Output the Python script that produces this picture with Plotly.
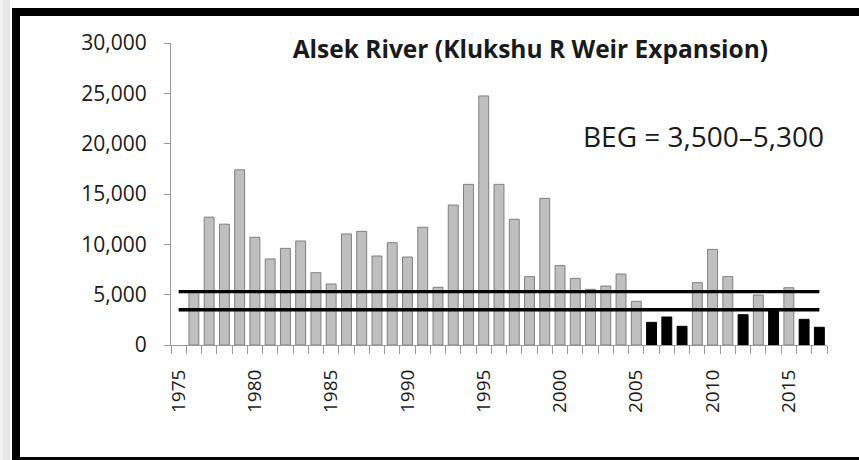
import plotly.graph_objects as go

# Alsek River (Klukshu weir expansion) escapement by year
years = list(range(1975, 2018))
counts = [None, 5350, 12700, 12000, 17400, 10700, 8550, 9600, 10330, 7180,
          6060, 11030, 11290, 8840, 10160, 8740, 11700, 5730, 13900, 15960,
          24740, 15960, 12490, 6790, 14570, 7880, 6620, 5530, 5860, 7050,
          4340, 2250, 2780, 1855, 6190, 9500, 6790, 3010, 4970, 3480,
          5690, 2550, 1760]
# years below the goal range, drawn in black
below_goal = [2006, 2007, 2008, 2012, 2014, 2016, 2017]
beg_low = 3500
beg_high = 5300
y_ticks = [0, 5000, 10000, 15000, 20000, 25000, 30000]
x_ticks = [1975, 1980, 1985, 1990, 1995, 2000, 2005, 2010, 2015]

bar_fill = ['#000000' if y in below_goal else '#bfbfbf' for y in years]
bar_edge = ['#000000' if y in below_goal else '#7f7f7f' for y in years]

fig = go.Figure()
fig.add_trace(go.Bar(
    x=years, y=counts,
    marker=dict(color=bar_fill, line=dict(color=bar_edge, width=1)),
    width=0.65,
    showlegend=False,
))
for lvl in (beg_high, beg_low):
    fig.add_trace(go.Scatter(
        x=[years[0], years[-1]], y=[lvl, lvl],
        mode='lines', line=dict(color='black', width=3.3),
        showlegend=False, hoverinfo='skip',
    ))

font = "Open Sans"
axis_grey = '#9a9a9a'
text_col = '#1a1a1a'

# plot area in pixels
L, T, PW, PH = 171, 43, 656, 302
W, H = 859, 460


def px(x):
    return (x - L) / PW


def py(y):
    return (T + PH - y) / PH


fig.update_layout(
    width=W, height=H,
    margin=dict(l=L, r=W - L - PW, t=T, b=H - T - PH),
    paper_bgcolor='white', plot_bgcolor='white',
    font=dict(family=font, color=text_col),
    title=dict(text="<b>Alsek River (Klukshu R Weir Expansion)</b>",
               x=530.4 / W, xanchor='center', y=1 - 49 / H, yanchor='middle',
               font=dict(size=24.5, family=font, color=text_col)),
    xaxis=dict(
        range=[1974.5, 2017.5],
        tickvals=x_ticks, ticktext=[str(v) for v in x_ticks],
        tickangle=-90, ticks='outside', ticklen=10,
        tickcolor='rgba(0,0,0,0)', ticklabelstandoff=6,
        tickfont=dict(size=19),
        showline=True, linecolor=axis_grey, linewidth=1,
        showgrid=False, zeroline=False,
        minor=dict(ticks='outside', ticklen=8, tick0=1974.5, dtick=1,
                   tickcolor=axis_grey, showgrid=False),
    ),
    yaxis=dict(
        range=[0, 30000],
        tickvals=y_ticks, ticktext=[f"{v:,}" for v in y_ticks],
        ticks='outside', ticklen=6, tickcolor=axis_grey,
        ticklabelstandoff=13,
        tickfont=dict(size=21),
        showline=True, linecolor=axis_grey, linewidth=1,
        showgrid=False, zeroline=False,
    ),
    annotations=[dict(
        text="BEG = 3,500–5,300", xref='paper', yref='paper',
        x=px(703.5), y=py(136), xanchor='center', yanchor='middle',
        showarrow=False, font=dict(size=28, family=font, color=text_col),
    )],
    shapes=[
        # faint strip on the left
        dict(type='rect', xref='paper', yref='paper',
             x0=px(0), x1=px(3), y0=py(H), y1=py(0),
             fillcolor='#f3f3f3', line=dict(width=0), layer='below'),
        dict(type='rect', xref='paper', yref='paper',
             x0=px(3), x1=px(10), y0=py(H), y1=py(0),
             fillcolor='#e6e6e6', line=dict(width=0), layer='below'),
        # black frame (left, top and bottom edges only)
        dict(type='line', xref='paper', yref='paper',
             x0=px(16), x1=px(16), y0=py(8), y1=py(H),
             line=dict(color='black', width=8)),
        dict(type='line', xref='paper', yref='paper',
             x0=px(12), x1=px(W), y0=py(12), y1=py(12),
             line=dict(color='black', width=8)),
        dict(type='line', xref='paper', yref='paper',
             x0=px(12), x1=px(W), y0=py(461), y1=py(461),
             line=dict(color='black', width=8)),
    ],
)

# drop the default page margin so the figure fills the window exactly
fig.write_html("out.html",
               config={'displayModeBar': False},
               post_script="document.body.style.margin='0';"
                           "document.body.style.overflow='hidden';")
